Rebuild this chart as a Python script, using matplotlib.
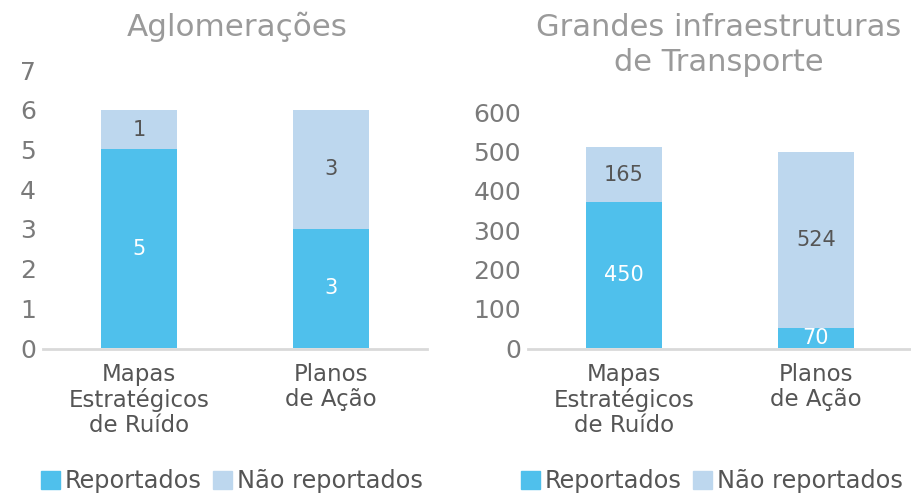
import matplotlib
matplotlib.use("Agg")
import matplotlib.pyplot as plt
from matplotlib.patches import Patch

plt.rcParams['font.family'] = ['DejaVu Sans']

categorias = ["Mapas\nEstratégicos\nde Ruído", "Planos\nde Ação"]
series = ["Reportados", "Não reportados"]

# Aglomerações
aglo_reportados = [5, 3]
aglo_nao_reportados = [1, 3]
aglo_rot_reportados = ["5", "3"]
aglo_rot_nao = ["1", "3"]
aglo_ticks = [0, 1, 2, 3, 4, 5, 6, 7]

# Grandes infraestruturas de Transporte (segment heights as drawn in the picture)
gitt_reportados = [371, 51]
gitt_nao_reportados = [140, 447]
gitt_rot_reportados = ["450", "70"]
gitt_rot_nao = ["165", "524"]
gitt_ticks = [0, 100, 200, 300, 400, 500, 600]

COR_REP = "#4FC0EC"
COR_NAO = "#BDD7EE"
COR_TICK = "#7a7a7a"
COR_TITULO = "#9a9a9a"
COR_TEXTO = "#555555"

W, H = 912, 496
fig = plt.figure(figsize=(W / 100, H / 100), dpi=100)

def px_axes(x0, x1, ytop, ybot):
    return [x0 / W, 1 - ybot / H, (x1 - x0) / W, (ybot - ytop) / H]

ax1 = fig.add_axes(px_axes(43, 427, 70, 348))
ax2 = fig.add_axes(px_axes(528, 912, 112, 348))

def draw(ax, rep, nao, rot_rep, rot_nao, ticks, ymax):
    x = list(range(len(categorias)))
    ax.bar(x, rep, width=0.4, color=COR_REP, label=series[0])
    ax.bar(x, nao, width=0.4, bottom=rep, color=COR_NAO, label=series[1])
    for xi, r, n, lr, ln in zip(x, rep, nao, rot_rep, rot_nao):
        ax.text(xi, r / 2, lr, ha="center", va="center", color="white", fontsize=15)
        ax.text(xi, r + n / 2, ln, ha="center", va="center", color=COR_TEXTO, fontsize=15)
    ax.set_xlim(-0.5, 1.5)
    ax.set_ylim(0, ymax)
    ax.set_yticks(ticks)
    ax.set_yticklabels([str(t) for t in ticks])
    ax.set_xticks(x)
    ax.set_xticklabels(categorias)
    for s in ["top", "right", "left"]:
        ax.spines[s].set_visible(False)
    ax.spines["bottom"].set_color("#d9d9d9")
    ax.spines["bottom"].set_linewidth(2)
    ax.spines["bottom"].set_position(("outward", 1))
    ax.tick_params(axis="y", length=0, labelsize=18, labelcolor=COR_TICK, pad=5)
    ax.tick_params(axis="x", length=0, pad=10, labelsize=16.5, labelcolor=COR_TEXTO)
    for lab in ax.get_xticklabels():
        lab.set_linespacing(1.09)

draw(ax1, aglo_reportados, aglo_nao_reportados, aglo_rot_reportados, aglo_rot_nao,
     aglo_ticks, 7)
draw(ax2, gitt_reportados, gitt_nao_reportados, gitt_rot_reportados, gitt_rot_nao,
     gitt_ticks, 600)

fig.text(237 / W, 1 - 27 / H, "Aglomerações", ha="center", va="center",
         fontsize=22.3, color=COR_TITULO)
fig.text(719 / W, 1 - 45 / H, "Grandes infraestruturas\nde Transporte", ha="center",
         va="center", fontsize=22, color=COR_TITULO, linespacing=1.23)

handles = [Patch(color=COR_REP), Patch(color=COR_NAO)]
for x0, cs in ((41, 0.5), (521, 0.5)):
    fig.legend(handles, series, loc="center left",
               bbox_to_anchor=(x0 / W, 1 - 481 / H), ncol=2, frameon=False,
               fontsize=17.3, handlelength=0.77, handleheight=0.77,
               handletextpad=0.2, columnspacing=cs, borderaxespad=0,
               borderpad=0, labelcolor=COR_TEXTO)

fig.savefig("out.png", dpi=100)
